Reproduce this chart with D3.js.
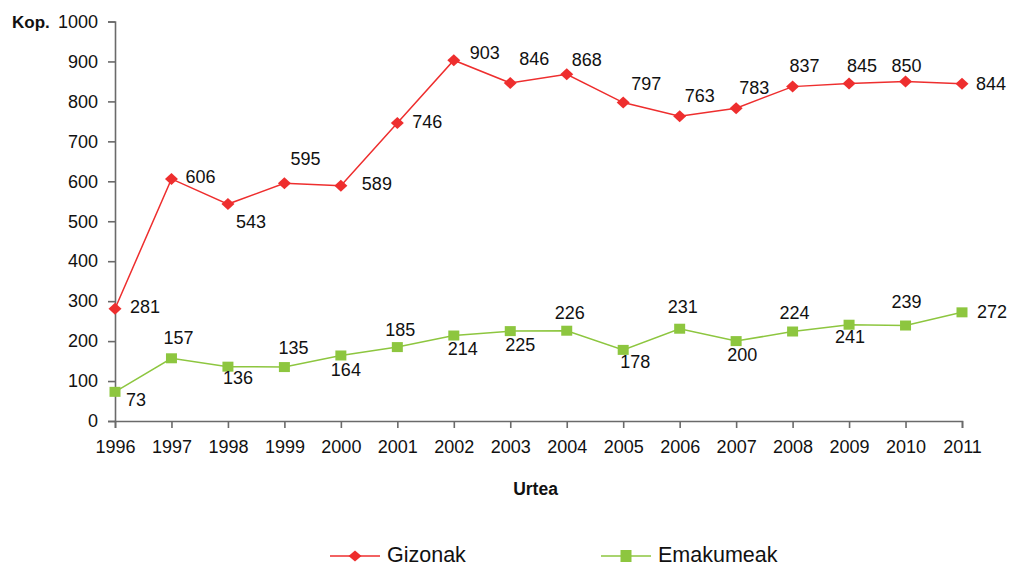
<!DOCTYPE html>
<html>
<head>
<meta charset="utf-8">
<script src="https://cdn.jsdelivr.net/npm/d3@7"></script>
<style>
  html, body { margin: 0; padding: 0; background: #fff; }
  svg text { font-family: "Liberation Sans", Arial, sans-serif; fill: #111; }
</style>
</head>
<body>
<svg id="chart" width="1010" height="567"></svg>
<script>
// Years on the horizontal axis
const years = [1996, 1997, 1998, 1999, 2000, 2001, 2002, 2003, 2004, 2005, 2006, 2007, 2008, 2009, 2010, 2011];
// Counts per year
const gizonak   = [281, 606, 543, 595, 589, 746, 903, 846, 868, 797, 763, 783, 837, 845, 850, 844];
const emakumeak = [73, 157, 136, 135, 164, 185, 214, 225, 226, 178, 231, 200, 224, 241, 239, 272];
// Vertical tick values
const yTicks = [0, 100, 200, 300, 400, 500, 600, 700, 800, 900, 1000];

// Value label offsets (px) from each marker, so labels avoid the lines
const gizonakLabelOffset = [[15,-2],[14,-2],[8,18],[6,-25],[21,-2],[15,-1],[16,-8],[9,-24],[5,-15],[8,-19],[5,-20],[3,-20],[-3,-21],[-2,-18],[-14,-16],[14,0]];
const emakumeakLabelOffset = [[11,8],[-8,-21],[-5,11],[-6,-19],[-10,14],[-12,-17],[-6,13],[-5,14],[-12,-18],[-3,12],[-12,-22],[-9,14],[-13,-19],[-14,12],[-14,-24],[15,-1]];

const RED = "#ee2e2e";
const GREEN = "#8dc63f";
const AXIS = "#6a6a6a";

// Marker shapes: a slightly flattened diamond and a small rectangle
const diamondShape = (hw, hh) => ({
  draw(ctx) {
    ctx.moveTo(0, -hh); ctx.lineTo(hw, 0); ctx.lineTo(0, hh); ctx.lineTo(-hw, 0); ctx.closePath();
  }
});
const rectShape = (hw, hh) => ({
  draw(ctx) { ctx.rect(-hw, -hh, hw * 2, hh * 2); }
});

const svg = d3.select("#chart");

const x = d3.scaleLinear().domain([1996, 2011]).range([115, 962]);
const y = d3.scaleLinear().domain([0, 1000]).range([421, 21.5]);

// Y axis
const yAxis = svg.append("g").attr("transform", "translate(115,0)")
  .call(d3.axisLeft(y).tickValues(yTicks).tickSize(7).tickPadding(10).tickFormat(d3.format("d")));
// X axis
const xAxis = svg.append("g").attr("transform", "translate(0,421)")
  .call(d3.axisBottom(x).tickValues(years).tickSize(7).tickPadding(12).tickFormat(d3.format("d")));

[yAxis, xAxis].forEach(g => {
  g.selectAll("path, line").attr("stroke", AXIS).attr("stroke-width", 1.6);
  g.selectAll("text").style("font-size", "18px").style("font-family", "Liberation Sans, Arial, sans-serif").attr("fill", "#111");
});

// Axis titles
svg.append("text").attr("x", 12).attr("y", 28).style("font-size", "17px").style("font-weight", "bold").text("Kop.");
svg.append("text").attr("x", 535.5).attr("y", 495).attr("text-anchor", "middle").style("font-size", "17.5px").style("font-weight", "bold").text("Urtea");

const line = d3.line().x((d, i) => x(years[i])).y(d => y(d));

function drawSeries(values, color, shape, offsets) {
  const g = svg.append("g");
  g.append("path").datum(values).attr("d", line).attr("fill", "none").attr("stroke", color).attr("stroke-width", 1.5);
  g.selectAll("path.mk").data(values).join("path").attr("class", "mk")
    .attr("d", d3.symbol().type(shape))
    .attr("transform", (d, i) => `translate(${x(years[i])},${y(d)})`)
    .attr("fill", color);
  g.selectAll("text").data(values).join("text")
    .attr("x", (d, i) => x(years[i]) + offsets[i][0])
    .attr("y", (d, i) => y(d) + offsets[i][1])
    .attr("dy", "0.35em")
    .style("font-size", "18px")
    .text(d => d);
}

drawSeries(gizonak, RED, diamondShape(6.5, 6), gizonakLabelOffset);
drawSeries(emakumeak, GREEN, rectShape(5.5, 5), emakumeakLabelOffset);

// Legend
const legend = [
  { name: "Gizonak", color: RED, shape: diamondShape(6.5, 5.5), x0: 330 },
  { name: "Emakumeak", color: GREEN, shape: rectShape(5.5, 6), x0: 601 }
];
const lg = svg.append("g");
legend.forEach(l => {
  lg.append("line").attr("x1", l.x0).attr("x2", l.x0 + 50).attr("y1", 556).attr("y2", 556).attr("stroke", l.color).attr("stroke-width", 1.4);
  lg.append("path").attr("d", d3.symbol().type(l.shape)())
    .attr("transform", `translate(${l.x0 + 25},556)`)
    .attr("fill", l.color);
  lg.append("text").attr("x", l.x0 + 57).attr("y", 562).style("font-size", "21.5px").text(l.name);
});
</script>
</body>
</html>
